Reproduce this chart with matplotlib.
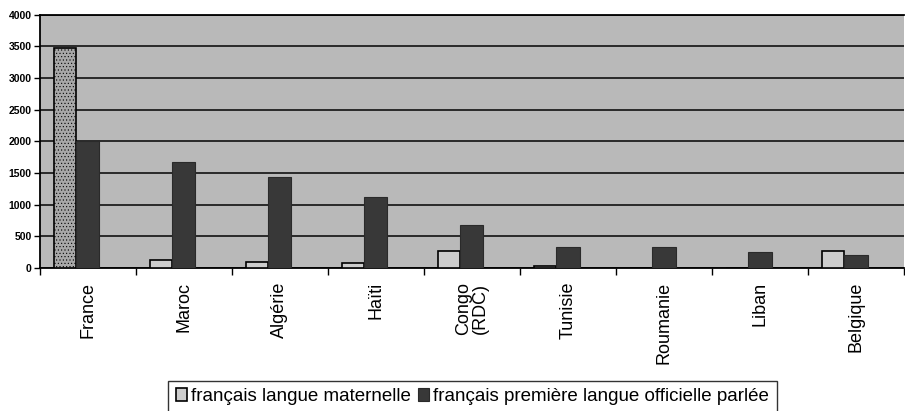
import numpy as np
import matplotlib.pyplot as plt

plt.rcParams['font.family'] = ['Liberation Sans', 'DejaVu Sans']
plt.rcParams['hatch.linewidth'] = 0.4

# Pays et effectifs
pays = ['France', 'Maroc', 'Algérie', 'Haïti', 'Congo\n(RDC)',
        'Tunisie', 'Roumanie', 'Liban', 'Belgique']
langue_maternelle = [3480, 130, 100, 80, 270, 30, 0, 0, 270]
premiere_langue = [2000, 1680, 1440, 1120, 680, 330, 330, 250, 205]
yticks = [0, 500, 1000, 1500, 2000, 2500, 3000, 3500, 4000]

def draw_chart():
    fig = plt.figure(figsize=(9.05, 4.11), dpi=100)
    ax = fig.add_axes([0.044, 0.348, 0.955, 0.616])
    ax.set_facecolor('#b9b9b9')

    x = np.arange(len(pays))
    w = 0.225
    # Excel-like offset: the pair sits a bit left of the category centre
    bars_m = ax.bar(x + 0.15, langue_maternelle, width=w, align='edge',
                    color='#cdcdcd', edgecolor='black', linewidth=1.2,
                    label='français langue maternelle', zorder=3)
    ax.bar(x + 0.15 + w, premiere_langue, width=w + 0.02, align='edge',
           color='#383838', edgecolor='#2a2a2a', linewidth=0.8,
           label='français première langue officielle parlée', zorder=3)

    ax.set_xlim(0, len(pays))
    ax.set_ylim(0, 4000)
    ax.set_yticks(yticks)
    ax.yaxis.grid(True, color='#1e1e1e', linewidth=1.3, zorder=1)
    ax.tick_params(axis='y', labelsize=7.5, length=4, width=1, pad=2)
    for lab in ax.get_yticklabels():
        lab.set_fontweight('bold')

    # labels at centres, tick marks at category edges
    ax.set_xticks(x + 0.5)
    ax.set_xticklabels(pays, rotation=90, fontsize=13, linespacing=1.0)
    ax.tick_params(axis='x', which='major', length=0, pad=10)
    ax.set_xticks(np.arange(len(pays) + 1), minor=True)
    ax.tick_params(axis='x', which='minor', length=5, width=1)

    for s in ['left', 'bottom', 'top']:
        ax.spines[s].set_color('black')
        ax.spines[s].set_linewidth(1.3)
    ax.spines['right'].set_visible(False)

    leg = fig.legend(loc='center', bbox_to_anchor=(0.522, 0.035), ncol=2,
                     fontsize=13.5, frameon=True, fancybox=False,
                     edgecolor='black', handlelength=0.6, handleheight=0.7,
                     handletextpad=0.2, columnspacing=0.4,
                     borderpad=0.4, borderaxespad=0)
    leg.get_frame().set_linewidth(1.0)

    # France bar is printed with a stippled texture in the scan
    bars_m[0].set_facecolor('#a8a8a8')
    bars_m[0].set_hatch('.....')

    fig.savefig('out.png', dpi=100)

if __name__ == "__main__":
    draw_chart()
